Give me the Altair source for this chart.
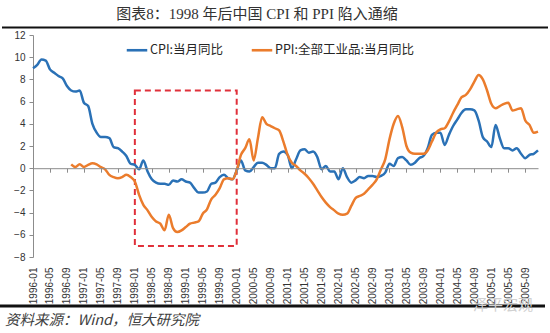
import altair as alt
import pandas as pd

# ---------------- data ----------------
years = list(range(1996, 2006))
months = [f"{y}-{m:02d}" for y in years for m in range(1, 13)]

cpi = [
    9.0, 9.3, 9.8, 9.7, 8.9, 8.6, 8.3, 8.1, 7.4, 7.0, 6.9, 7.0,
    5.9, 5.6, 4.0, 3.2, 2.8, 2.8, 2.7, 1.9, 1.8, 1.5, 1.1, 0.4,
    0.3, -0.1, 0.7, -0.3, -1.0, -1.3, -1.4, -1.4, -1.5, -1.1, -1.2, -1.0,
    -1.2, -1.3, -1.8, -2.2, -2.2, -2.1, -1.4, -1.3, -0.8, -0.6, -0.9, -1.0,
    -0.2, 0.7, -0.2, -0.3, 0.1, 0.5, 0.5, 0.3, 0.0, 0.0, 1.3, 1.5,
    1.2, 0.0, 0.8, 1.6, 1.7, 1.4, 1.5, 1.0, -0.1, 0.2, -0.3, -0.3,
    -1.0, 0.0, -0.8, -1.3, -1.1, -0.8, -0.9, -0.7, -0.7, -0.8, -0.7, -0.4,
    0.4, 0.2, 0.9, 1.0, 0.7, 0.3, 0.5, 0.9, 1.1, 1.8, 3.0, 3.2,
    3.2, 2.1, 3.0, 3.8, 4.4, 5.0, 5.3, 5.3, 5.2, 4.3, 2.8, 2.4,
    1.9, 3.9, 2.7, 1.8, 1.8, 1.6, 1.8, 1.3, 0.9, 1.2, 1.3, 1.6,
]

ppi = [
    None, None, None, None, None, None, None, None, None, 0.35, 0.1, 0.35,
    0.1, 0.3, 0.45, 0.35, 0.1, -0.1, -0.6, -0.8, -0.9, -0.8, -0.6, -0.8,
    -1.2, -2.4, -3.3, -3.8, -4.4, -4.8, -5.0, -5.6, -4.2, -5.4, -5.75, -5.6,
    -5.3, -5.0, -4.9, -4.8, -4.1, -3.7, -2.8, -2.4, -1.8, -1.0, -0.9, -1.0,
    -0.2, 1.2, 1.8, 2.6, 0.7, 2.7, 4.6, 4.0, 3.8, 3.6, 3.4, 2.4,
    1.2, 0.5, 0.2, -0.2, -0.5, -0.9, -1.4, -2.0, -2.6, -3.1, -3.5, -3.8,
    -4.1, -4.2, -4.1, -3.4, -2.7, -2.5, -2.3, -1.9, -1.5, -1.0, -0.1, 0.8,
    2.6, 4.0, 4.7, 3.7, 2.0, 1.4, 1.3, 1.3, 1.3, 1.6, 2.4, 3.2,
    3.5, 3.6, 4.2, 5.0, 5.7, 6.4, 6.6, 7.1, 7.8, 8.4, 8.0, 7.0,
    5.8, 5.4, 5.6, 5.8, 5.9, 5.2, 5.3, 5.4, 4.3, 3.9, 3.2, 3.3,
]

cpi_name = "CPI:当月同比"
ppi_name = "PPI:全部工业品:当月同比"
y_ticks = list(range(-8, 13, 2))
x_ticks = months[::4]

box_start, box_end = ["1998-01"], ["2000-01"]
box_top, box_bottom = [7], [-7]

title_text = "图表8：1998 年后中国 CPI 和 PPI 陷入通缩"
source_text = "资料来源：Wind，恒大研究院"
mark_text_wm = "泽平宏观"

# ---------------- tables ----------------
rows = []
for m, v in zip(months, cpi):
    rows.append({"month": m, "value": v, "series": cpi_name})
for m, v in zip(months, ppi):
    if v is not None:
        rows.append({"month": m, "value": v, "series": ppi_name})
df = pd.DataFrame(rows)

box_df = pd.DataFrame({"start": box_start, "end": box_end, "top": box_top, "bottom": box_bottom})

W, H = 505, 222
blue, orange = "#2A71B6", "#EB7C2C"
axis_gray = "#8c8c8c"
label_font = "Liberation Sans"
cjk = "Noto Sans CJK SC"

xscale = alt.Scale(type="point", padding=0, domain=months)
yscale = alt.Scale(domain=[-8, 12], nice=False, zero=False)
yaxis = alt.Axis(values=y_ticks, title=None, grid=False, tickSize=4, labelOverlap=False,
                 domainColor=axis_gray, tickColor=axis_gray, labelPadding=4,
                 labelFontSize=10, labelColor="#333333", labelFont=label_font)

lines = alt.Chart(df).mark_line(strokeWidth=2.5, interpolate="monotone").encode(
    x=alt.X("month:O", scale=xscale, sort=months,
            axis=alt.Axis(values=x_ticks, labelAngle=270, ticks=False, domain=False,
                          labelPadding=10, labelFontSize=10, labelColor="#333333",
                          labelFont=label_font, title=None, orient="bottom")),
    y=alt.Y("value:Q", scale=yscale, axis=yaxis),
    color=alt.Color("series:N",
                    scale=alt.Scale(domain=[cpi_name, ppi_name], range=[blue, orange]),
                    legend=alt.Legend(title=None, orient="none", legendX=92, legendY=3,
                                      direction="horizontal", symbolType="stroke",
                                      symbolSize=420, symbolStrokeWidth=2.6,
                                      labelFontSize=12.5, labelFont=cjk, labelColor="#262626",
                                      columnPadding=22, labelOffset=1)),
)

box = alt.Chart(box_df).mark_rect(fillOpacity=0, stroke="#E0303A", strokeWidth=2,
                                   strokeDash=[6, 4]).encode(
    x=alt.X("start:O", scale=xscale,
            axis=alt.Axis(orient="bottom", offset=-H * 8 / 20, values=x_ticks, labels=False,
                          domain=True, ticks=True, tickSize=4, domainColor=axis_gray,
                          tickColor=axis_gray, title=None, grid=False)),
    x2="end",
    y=alt.Y("top:Q", scale=yscale, axis=yaxis),
    y2="bottom",
)

title = alt.Chart(pd.DataFrame({"t": [title_text]})).mark_text(
    font="Liberation Serif, Noto Sans CJK SC", fontSize=15, color="#333333",
    align="center", baseline="middle").encode(
    text="t:N", x=alt.value(224), y=alt.value(-21))

top_rule = alt.Chart(pd.DataFrame({"a": [0]})).mark_rule(color="#111111", strokeWidth=2).encode(
    x=alt.value(-31), x2=alt.value(515), y=alt.value(-7.5))

bottom_rule = alt.Chart(pd.DataFrame({"a": [0]})).mark_rule(color="#111111", strokeWidth=3).encode(
    x=alt.value(-33), x2=alt.value(512), y=alt.value(271))

source = alt.Chart(pd.DataFrame({"t": [source_text]})).mark_text(
    font=cjk, fontSize=14.5, fontStyle="italic", color="#404040",
    align="left", baseline="middle").encode(
    text="t:N", x=alt.value(-28), y=alt.value(286))

wm = alt.Chart(pd.DataFrame({"t": [mark_text_wm]})).mark_text(
    font=cjk, fontSize=15, color="#d0d0d0", align="center", baseline="middle").encode(
    text="t:N", x=alt.value(470), y=alt.value(270))

chart = alt.layer(box, lines, title, top_rule, bottom_rule, source, wm).resolve_axis(
    x="independent"
).properties(
    width=W, height=H,
    padding={"left": 33, "top": 35, "right": 12, "bottom": 76},
    autosize=alt.AutoSizeParams(type="none"),
    background="white",
).configure_view(stroke=None)

chart.save("out.html", embed_options={"renderer": "svg", "actions": False})
